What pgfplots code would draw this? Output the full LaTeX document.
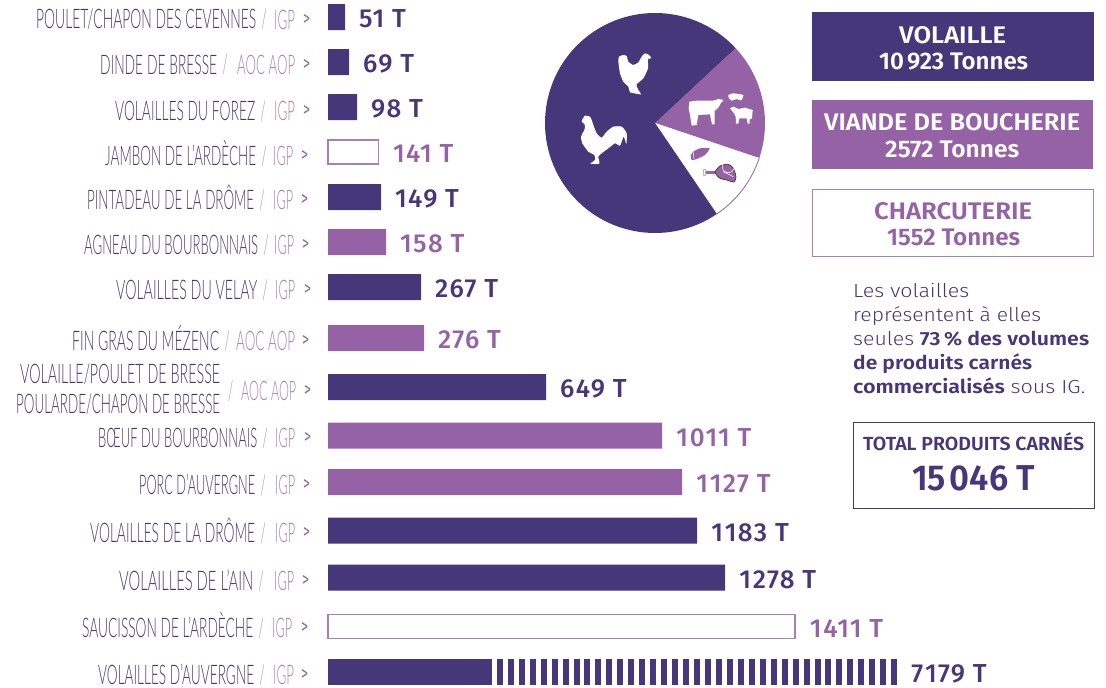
\documentclass[border=0pt]{standalone}
\usepackage{pgfplots}
\usepackage{pgfplotstable}
\usepackage{fontspec}
\usepackage{graphicx}
\pgfplotsset{compat=1.18}
\setmainfont{Fira Sans}
\newfontfamily\lightf{Fira Sans Light}
\newfontfamily\medf{Fira Sans Medium}
\newfontfamily\valf[LetterSpace=5]{Fira Sans Medium}
\newfontfamily\boldf{Fira Sans SemiBold}
\newfontfamily\handf{Lato Light}
\definecolor{dark}{HTML}{46367A}
\definecolor{mid}{HTML}{9562A6}
\definecolor{soft}{HTML}{A77FBB}
\definecolor{ham}{HTML}{5E2A2A}

% len = drawn length of the bar (px), y = row position (px), val = tonnes printed
\pgfplotstableread{
len y val
17 17 51
21 62 69
29 107 98
53 197 149
93 287 267
218 387 649
369 530.5 1183
397 577.5 1278
}\darkdata
\pgfplotstableread{
len y val
58 242 158
96 338 276
334 435.5 1011
354 482 1127
}\middata
\pgfplotstableread{
len y val
50.5 152 141
467 626.5 1411
}\outdata

\newcommand\fit[5]{% x0 x1 baseline font text
  \pgfmathsetlengthmacro\fitw{(#2)-(#1)}%
  \node[anchor=base west,inner sep=0pt] at (#1,#3)
    {\resizebox{\fitw}{\height}{#4#5}};}
\newcommand\hand{\handf\fontsize{27}{27}\selectfont}
% y, name x0, name x1, tag x0, tag x1, arrow x0, name, tag
\newcommand\row[8]{%
  \fit{#2}{#3}{#1+10}{\color{dark}\hand}{#7}
  \fit{#3+5.5}{#3+10.5}{#1+10}{\color{soft}\hand}{/}
  \fit{#4}{#5}{#1+10}{\color{soft}\hand}{#8}
  \node[inner sep=0pt,text=mid] at (#6+3.5,#1+0.5)
    {\resizebox{7pt}{11pt}{>}};}
\newcommand\solidblob[2]{\fill[#1] plot[smooth cycle,tension=0.35] coordinates {#2};}

\begin{document}
\begin{tikzpicture}[x=1pt,y=-1pt]
\useasboundingbox (0,0) rectangle (1106,688);
\begin{axis}[
  at={(0pt,0pt)},anchor=north west,
  scale only axis,width=1106pt,height=688pt,
  xmin=-328,xmax=778,ymin=0,ymax=688,y dir=reverse,
  hide axis,clip=false,
  unbounded coords=jump,
  /pgf/number format/assume math mode=true,
  /pgf/number format/1000 sep={\kern2pt},
  /pgf/number format/fixed,
  nodes near coords={\pgfmathprintnumber{\pgfplotspointmeta} T},
  every node near coord/.append style={
    anchor=west,inner sep=0pt,xshift=14pt,yshift=-2pt,
    font=\valf\fontsize{26}{26}\selectfont},
]
\addplot[xbar,bar shift=0pt,bar width=26pt,draw=none,fill=dark,
  nodes near coords style={text=dark},point meta=explicit]
  table[x=len,y=y,meta=val]{\darkdata};
\addplot[xbar,bar shift=0pt,bar width=26pt,draw=none,fill=mid,
  nodes near coords style={text=mid},point meta=explicit]
  table[x=len,y=y,meta=val]{\middata};
\addplot[xbar,bar shift=0pt,bar width=24pt,draw=soft,line width=1.4pt,fill=white,
  nodes near coords style={text=mid},point meta=explicit]
  table[x=len,y=y,meta=val]{\outdata};
% the 7179 T bar: solid part, then a stripe break
\addplot[xbar,bar shift=0pt,bar width=26pt,draw=none,fill=dark,nodes near coords={}]
  coordinates {(164,672)};
\addplot[dark,line width=6pt,no marks,nodes near coords={}] coordinates {
(172,659)(172,685)(172,nan)(183,659)(183,685)(183,nan)(194,659)(194,685)(194,nan)
(205,659)(205,685)(205,nan)(216,659)(216,685)(216,nan)(227,659)(227,685)(227,nan)
(238,659)(238,685)(238,nan)(249,659)(249,685)(249,nan)(259,659)(259,685)(259,nan)
(270,659)(270,685)(270,nan)(281,659)(281,685)(281,nan)(292,659)(292,685)(292,nan)
(303,659)(303,685)(303,nan)(314,659)(314,685)(314,nan)(325,659)(325,685)(325,nan)
(336,659)(336,685)(336,nan)(347,659)(347,685)(347,nan)(358,659)(358,685)(358,nan)
(369,659)(369,685)(369,nan)(380,659)(380,685)(380,nan)(391,659)(391,685)(391,nan)
(402,659)(402,685)(402,nan)(413,659)(413,685)(413,nan)(424,659)(424,685)(424,nan)
(435,659)(435,685)(435,nan)(446,659)(446,685)(446,nan)(457,659)(457,685)(457,nan)
(468,659)(468,685)(468,nan)(479,659)(479,685)(479,nan)(490,659)(490,685)(490,nan)
(500,659)(500,685)(500,nan)(511,659)(511,685)(511,nan)(522,659)(522,685)(522,nan)
(533,659)(533,685)(533,nan)(544,659)(544,685)(544,nan)(555,659)(555,685)(555,nan)
(566,659)(566,685)
};
\addplot[draw=none,no marks,point meta=explicit,
  nodes near coords style={text=dark}]
  coordinates {(569,672)[7179]};
\end{axis}

% row labels
\row{19}{36}{256}{274}{295}{303}{POULET/CHAPON DES CEVENNES}{IGP}
\row{64}{100}{217}{237}{295}{303}{DINDE DE BRESSE}{AOC AOP}
\row{110}{115}{255}{274}{295}{303}{VOLAILLES DU FOREZ}{IGP}
\row{155}{105}{256}{273}{293}{301}{JAMBON DE L’ARDÈCHE}{IGP}
\row{199}{87}{254}{273}{293}{301}{PINTADEAU DE LA DRÔME}{IGP}
\row{244}{84}{258}{274}{294}{302}{AGNEAU DU BOURBONNAIS}{IGP}
\row{289}{116}{257}{275}{295}{304}{VOLAILLES DU VELAY}{IGP}
\row{340}{72}{219}{236}{295}{302}{FIN GRAS DU MÉZENC}{AOC AOP}
\fit{20}{220}{383}{\color{dark}\hand}{VOLAILLE/POULET DE BRESSE}
\fit{16}{220}{413}{\color{dark}\hand}{POULARDE/CHAPON DE BRESSE}
\fit{228}{233}{400}{\color{soft}\hand}{/}
\fit{241}{296}{400}{\color{soft}\hand}{AOC AOP}
\node[inner sep=0pt,text=mid] at (307.5,390.5) {\resizebox{7pt}{11pt}{>}};
\row{437}{98}{257}{275}{295}{304}{BŒUF DU BOURBONNAIS}{IGP}
\row{484}{139}{255}{275}{295}{303}{PORC D’AUVERGNE}{IGP}
\row{532}{90}{255}{275}{295}{303}{VOLAILLES DE LA DRÔME}{IGP}
\row{580}{119}{253}{274}{294}{302}{VOLAILLES DE L’AIN}{IGP}
\row{627}{82}{253}{272}{292}{301}{SAUCISSON DE L’ARDÈCHE}{IGP}
\row{674}{98}{254}{273}{294}{301}{VOLAILLES D’AUVERGNE}{IGP}

% pie
\pgfmathsetmacro\aA{42.9}
\pgfmathsetmacro\aB{\aA-2572/15046*360}
\pgfmathsetmacro\aC{\aB-1552/15046*360}
\pgfmathsetmacro\aD{\aA-360}
\fill[mid] (655,123) -- ++(\aA:110pt) arc[start angle=\aA,end angle=\aB,radius=110pt] -- cycle;
\fill[white] (655,123) -- ++(\aB:110pt) arc[start angle=\aB,end angle=\aC,radius=110pt] -- cycle;
\draw[mid,line width=0.8pt] (655,123) ++(\aB:110pt) arc[start angle=\aB,end angle=\aC,radius=110pt];
\fill[dark] (655,123) -- ++(\aC:110pt) arc[start angle=\aC,end angle=\aD,radius=110pt] -- cycle;

% icons, in coordinates of a 3x crop
\begin{scope}[shift={(575,45)},x=0.3333pt,y=-0.3333pt]
\solidblob{white}{(145,30)(155,33)(160,50)(175,60)(190,52)(200,35)(210,25)(222,30)(229,39)(219,43)(219,70)(205,100)(185,118)(190,135)(198,148)(178,145)(165,142)(160,125)(145,110)(135,85)(130,50)(132,35)}
\solidblob{white}{(20,229)(30,212)(45,215)(50,225)(55,240)(65,265)(80,278)(95,260)(115,245)(140,245)(155,265)(154,297)(146,275)(135,302)(120,295)(100,310)(80,325)(70,335)(73,356)(46,356)(60,345)(58,330)(40,320)(22,295)(18,275)(28,255)(30,240)}
\end{scope}
\begin{scope}[shift={(680,85)},x=0.3333pt,y=-0.3333pt]
\fill[white] (28,50)--(50,47)--(100,47)--(115,42)--(131,45)--(122,55)--(115,68)--(104,78)--(104,118)--(96,118)--(90,88)--(55,90)--(50,120)--(35,122)--(30,90)--(26,70)--cycle;
\solidblob{white}{(145,30)(160,25)(175,27)(190,30)(184,46)(170,42)(155,47)(147,40)}
\fill[white] (150,70)--(160,65)--(175,72)--(195,68)--(218,75)--(216,100)--(209,103)--(209,116)--(203,116)--(200,100)--(178,100)--(175,116)--(168,116)--(167,95)--(160,82)--cycle;
\solidblob{mid}{(32,212)(40,200)(60,190)(89,190)(75,210)(50,222)(35,225)}
\draw[white,line width=0.5pt] (40,202) -- (42,222);
\fill[soft!60] (70,253) rectangle (78,272);
\fill[white] (72,255) rectangle (76,270);
\fill[mid] (78,258) rectangle (106,267);
\draw[ham,fill=mid,line width=0.7pt] plot[smooth cycle,tension=0.4] coordinates {(105,262)(120,243)(145,238)(160,250)(168,275)(162,291)(140,285)(120,280)};
\draw[white,line width=0.5pt] (145,245) circle[radius=6pt] (130,260) -- (160,275);
\end{scope}

% boxes
\fill[dark] (812,12) rectangle (1094,81);
\fit{899}{1006}{43}{\color{white}\boldf\fontsize{24}{24}\selectfont}{VOLAILLE}
\fit{879}{1028}{69}{\color{white}\boldf\fontsize{24}{24}\selectfont}{10\kern3pt 923 Tonnes}
\fill[mid] (812,100) rectangle (1093,169);
\fit{824}{1080}{130}{\color{white}\boldf\fontsize{24}{24}\selectfont}{VIANDE DE BOUCHERIE}
\fit{885}{1019}{157}{\color{white}\boldf\fontsize{24}{24}\selectfont}{2572 Tonnes}
\draw[soft,line width=1pt] (812.5,189.5) rectangle (1093.5,256);
\fit{874}{1032}{219}{\color{mid}\boldf\fontsize{24}{24}\selectfont}{CHARCUTERIE}
\fit{887}{1020}{245}{\color{mid}\boldf\fontsize{24}{24}\selectfont}{1552 Tonnes}

\newcommand\para{\fontsize{19}{19}\selectfont}
\fit{853}{969}{297}{\color{dark}\lightf\para}{Les volailles}
\fit{853}{1041}{321}{\color{dark}\lightf\para}{représentent à elles}
\fit{853}{1089}{345}{\color{dark}\para}{{\lightf seules} {\boldf 73\,\% des volumes}}
\fit{853}{1032}{369}{\color{dark}\boldf\para}{de produits carnés}
\fit{853}{1085}{393}{\color{dark}\para}{{\boldf commercialisés} {\lightf sous IG.}}

\draw[dark,line width=1pt] (853,422.5) rectangle (1094,508);
\fit{863}{1084}{450}{\color{dark}\boldf\fontsize{19}{19}\selectfont}{TOTAL PRODUITS CARNÉS}
\fit{912}{1035}{490.5}{\color{dark}\boldf\fontsize{36}{36}\selectfont}{15\kern4pt 046 T}
\end{tikzpicture}
\end{document}
